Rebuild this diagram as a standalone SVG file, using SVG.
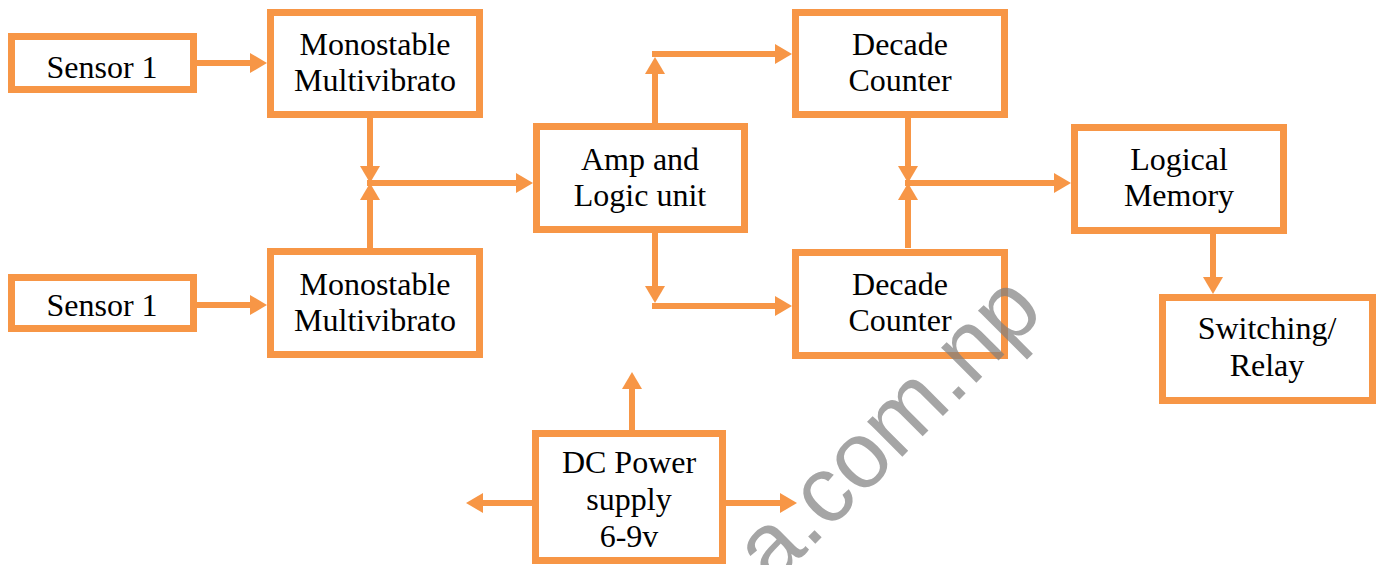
<svg xmlns="http://www.w3.org/2000/svg" width="1378" height="565" viewBox="0 0 1378 565">
<style>
.box{fill:#fff;stroke:#F79646;stroke-width:7}
.lbl{font-family:"Liberation Serif","Times New Roman",serif;font-size:32px;fill:#000;text-anchor:middle}
.con{fill:none;stroke:#F79646;stroke-width:6}
.wm{font-family:"Liberation Sans",Arial,sans-serif;font-size:94px;fill:#808080;opacity:0.7}
</style>
<defs>
<marker id="ah" markerUnits="userSpaceOnUse" markerWidth="17" markerHeight="20" refX="0" refY="10" orient="auto">
<path d="M0,0 L17,10 L0,20 z" fill="#F79646"/>
</marker>
</defs>
<rect width="1378" height="565" fill="#fff"/>
<g id="connectors">
<path class="con" d="M197,63 H250" marker-end="url(#ah)"/>
<path class="con" d="M197,305 H250" marker-end="url(#ah)"/>
<path class="con" d="M370,118 V166" marker-end="url(#ah)"/>
<path class="con" d="M370,248 V200" marker-end="url(#ah)"/>
<path class="con" d="M367,183 H516" marker-end="url(#ah)"/>
<path class="con" d="M655,123 V74" marker-end="url(#ah)"/>
<path class="con" d="M652,54 H775" marker-end="url(#ah)"/>
<path class="con" d="M655,233 V286" marker-end="url(#ah)"/>
<path class="con" d="M652,306 H775" marker-end="url(#ah)"/>
<path class="con" d="M908,118 V166" marker-end="url(#ah)"/>
<path class="con" d="M908,248 V200" marker-end="url(#ah)"/>
<path class="con" d="M905,183 H1054" marker-end="url(#ah)"/>
<path class="con" d="M1213,234 V277" marker-end="url(#ah)"/>
<path class="con" d="M632,430 V389" marker-end="url(#ah)"/>
<path class="con" d="M532,503 H483" marker-end="url(#ah)"/>
<path class="con" d="M726,503 H780" marker-end="url(#ah)"/>
</g>
<g id="sensor1-top">
<rect class="box" x="11.5" y="36.5" width="182" height="53"/>
<text class="lbl" x="102" y="78">Sensor 1</text>
</g>
<g id="sensor1-bottom">
<rect class="box" x="11.5" y="277.5" width="182" height="51"/>
<text class="lbl" x="102" y="316">Sensor 1</text>
</g>
<g id="mono-top">
<rect class="box" x="270.5" y="12.5" width="209" height="102"/>
<text class="lbl" x="375" y="55">Monostable</text>
<text class="lbl" x="375" y="91">Multivibrato</text>
</g>
<g id="mono-bottom">
<rect class="box" x="270.5" y="251.5" width="209" height="103"/>
<text class="lbl" x="375" y="295">Monostable</text>
<text class="lbl" x="375" y="331">Multivibrato</text>
</g>
<g id="amp">
<rect class="box" x="536.5" y="126.5" width="208" height="103"/>
<text class="lbl" x="640" y="170">Amp and</text>
<text class="lbl" x="640" y="206">Logic unit</text>
</g>
<g id="decade-top">
<rect class="box" x="795.5" y="12.5" width="209" height="102"/>
<text class="lbl" x="900" y="55">Decade</text>
<text class="lbl" x="900" y="91">Counter</text>
</g>
<g id="decade-bottom">
<rect class="box" x="795.5" y="252.5" width="209" height="103"/>
<text class="lbl" x="900" y="295">Decade</text>
<text class="lbl" x="900" y="331">Counter</text>
</g>
<g id="logical-memory">
<rect class="box" x="1074.5" y="127.5" width="209" height="103"/>
<text class="lbl" x="1179" y="170">Logical</text>
<text class="lbl" x="1179" y="206">Memory</text>
</g>
<g id="switching-relay">
<rect class="box" x="1162.5" y="297.5" width="210" height="103"/>
<text class="lbl" x="1267" y="339">Switching/</text>
<text class="lbl" x="1267" y="376">Relay</text>
</g>
<g id="dc-power">
<rect class="box" x="535.5" y="433.5" width="187" height="127"/>
<text class="lbl" x="629" y="473">DC Power</text>
<text class="lbl" x="629" y="510">supply</text>
<text class="lbl" x="629" y="547">6-9v</text>
</g>
<g id="watermark">
<text class="wm" x="-52" y="0" transform="translate(809,550) rotate(-45)">a.com.np</text>
</g>
</svg>
